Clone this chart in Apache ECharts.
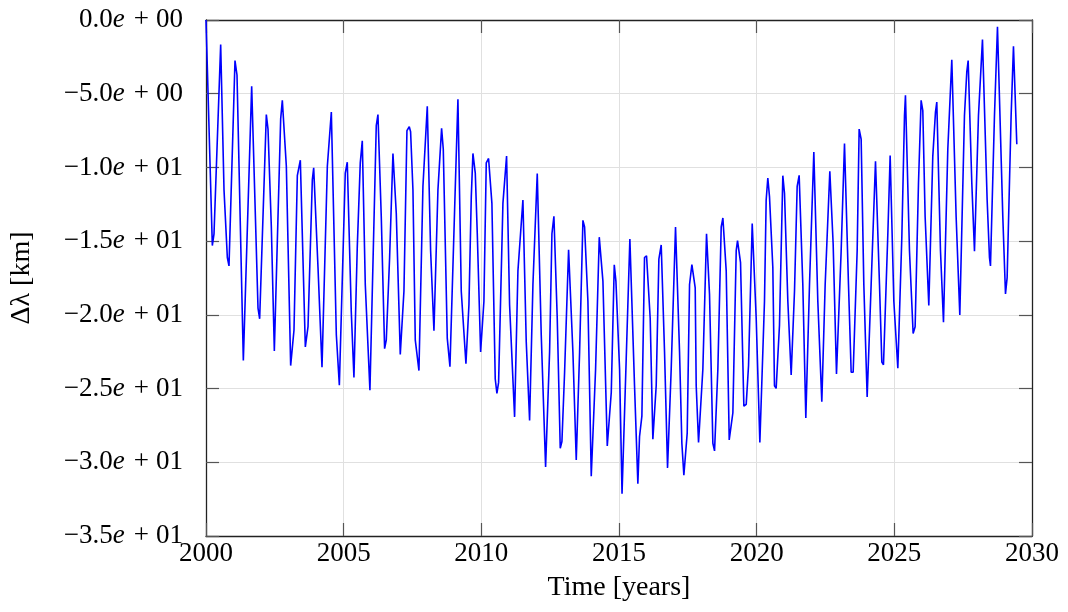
<!DOCTYPE html>
<html>
<head>
<meta charset="utf-8">
<script src="https://cdn.jsdelivr.net/npm/echarts@6/dist/echarts.min.js"></script>
<style>
  html, body { margin: 0; padding: 0; background: #fff; }
  #main { width: 1068px; height: 612px; }
</style>
</head>
<body>
<div id="main"></div>
<script>
// time axis (years), extremes + shoulders
const years = [
  2000.000, 2000.230, 2000.291, 2000.533, 2000.654, 2000.775, 2000.835, 2001.053, 2001.126, 2001.356,
  2001.659, 2001.889, 2001.949, 2002.191, 2002.252, 2002.373, 2002.482, 2002.712, 2002.772, 2002.918,
  2003.075, 2003.196, 2003.317, 2003.426, 2003.608, 2003.705, 2003.862, 2003.911, 2003.971, 2004.068,
  2004.213, 2004.407, 2004.552, 2004.734, 2004.843, 2005.058, 2005.131, 2005.276, 2005.373, 2005.494,
  2005.603, 2005.676, 2005.785, 2005.954, 2006.184, 2006.245, 2006.366, 2006.487, 2006.547, 2006.669,
  2006.790, 2006.911, 2007.056, 2007.189, 2007.298, 2007.383, 2007.431, 2007.516, 2007.601, 2007.734,
  2007.879, 2008.037, 2008.158, 2008.279, 2008.327, 2008.424, 2008.557, 2008.618, 2008.763, 2008.860,
  2009.029, 2009.150, 2009.271, 2009.441, 2009.550, 2009.635, 2009.695, 2009.780, 2009.853, 2009.974,
  2010.094, 2010.179, 2010.263, 2010.384, 2010.505, 2010.566, 2010.627, 2010.784, 2010.917, 2011.026,
  2011.208, 2011.329, 2011.510, 2011.631, 2011.753, 2011.874, 2012.031, 2012.176, 2012.334, 2012.479,
  2012.564, 2012.636, 2012.757, 2012.866, 2012.927, 2013.024, 2013.169, 2013.326, 2013.447, 2013.569,
  2013.690, 2013.750, 2013.871, 2013.992, 2014.150, 2014.283, 2014.416, 2014.574, 2014.719, 2014.828,
  2014.888, 2015.021, 2015.110, 2015.262, 2015.395, 2015.564, 2015.685, 2015.746, 2015.831, 2015.927,
  2016.000, 2016.133, 2016.230, 2016.351, 2016.448, 2016.533, 2016.654, 2016.763, 2016.896, 2017.053,
  2017.199, 2017.283, 2017.356, 2017.477, 2017.562, 2017.647, 2017.768, 2017.804, 2017.889, 2018.046,
  2018.179, 2018.288, 2018.409, 2018.470, 2018.591, 2018.712, 2018.773, 2018.894, 2019.003, 2019.136,
  2019.257, 2019.305, 2019.414, 2019.535, 2019.620, 2019.705, 2019.838, 2019.983, 2020.116, 2020.284,
  2020.345, 2020.405, 2020.466, 2020.587, 2020.647, 2020.708, 2020.829, 2020.950, 2021.011, 2021.132,
  2021.253, 2021.374, 2021.471, 2021.543, 2021.676, 2021.785, 2021.919, 2022.076, 2022.221, 2022.366,
  2022.488, 2022.657, 2022.778, 2022.899, 2023.069, 2023.190, 2023.335, 2023.432, 2023.505, 2023.650,
  2023.722, 2023.795, 2023.892, 2024.013, 2024.158, 2024.316, 2024.461, 2024.546, 2024.606, 2024.764,
  2024.848, 2024.982, 2025.127, 2025.272, 2025.369, 2025.404, 2025.550, 2025.683, 2025.755, 2025.877,
  2025.973, 2026.034, 2026.119, 2026.252, 2026.397, 2026.494, 2026.542, 2026.676, 2026.785, 2026.942,
  2027.087, 2027.245, 2027.378, 2027.547, 2027.632, 2027.681, 2027.814, 2027.911, 2028.056, 2028.201,
  2028.371, 2028.455, 2028.492, 2028.637, 2028.746, 2028.806, 2028.940, 2029.037, 2029.097, 2029.242,
  2029.327, 2029.448,
];

// Δλ [km]
const deltaLambda = [
  0.00, -15.30, -14.50, -1.67, -11.52, -16.11, -16.68, -2.75, -3.73, -23.09,
  -4.49, -19.54, -20.27, -6.41, -7.40, -14.04, -22.45, -6.71, -5.45, -9.92,
  -23.44, -21.03, -10.56, -9.51, -22.18, -20.80, -10.84, -10.03, -10.15, -16.79,
  -23.55, -9.92, -6.25, -21.37, -24.77, -10.38, -9.65, -19.77, -24.24, -15.42,
  -9.69, -8.20, -17.94, -25.11, -7.17, -6.41, -13.36, -22.29, -21.72, -16.11,
  -9.05, -13.13, -22.68, -18.40, -7.51, -7.24, -7.58, -11.52, -21.72, -23.78,
  -11.29, -5.86, -15.65, -21.08, -21.03, -11.52, -7.35, -8.77, -21.60, -23.51,
  -12.90, -5.38, -18.40, -23.32, -19.31, -11.98, -9.05, -10.38, -14.50, -22.52,
  -19.08, -9.69, -9.39, -12.44, -24.35, -25.32, -24.58, -12.44, -9.23, -19.31,
  -26.92, -17.02, -12.21, -21.83, -27.17, -17.94, -10.42, -21.37, -30.31, -22.52,
  -14.50, -13.31, -20.23, -29.05, -28.59, -23.89, -15.58, -22.52, -29.85, -22.52,
  -13.59, -14.04, -19.08, -30.95, -23.67, -14.73, -17.71, -28.89, -25.27, -16.61,
  -17.71, -23.67, -32.14, -22.98, -14.85, -24.81, -31.45, -28.25, -26.87, -16.11,
  -15.99, -20.23, -28.43, -24.81, -16.22, -15.26, -22.52, -30.38, -23.67, -14.04,
  -22.52, -28.71, -30.88, -28.02, -17.94, -16.59, -18.17, -24.81, -28.66, -23.67,
  -14.50, -18.63, -28.71, -29.23, -23.67, -14.04, -13.43, -17.02, -28.48, -26.64,
  -15.65, -14.96, -16.45, -26.19, -26.07, -23.44, -13.81, -20.23, -28.66, -19.08,
  -12.21, -10.72, -11.98, -16.79, -24.81, -24.99, -20.69, -10.56, -11.75, -19.08,
  -24.08, -18.40, -11.29, -10.54, -17.94, -26.99, -17.94, -8.96, -19.08, -25.89,
  -17.94, -10.26, -15.19, -24.01, -15.65, -8.38, -17.94, -23.89, -23.89, -15.65,
  -7.40, -8.09, -17.94, -25.57, -17.94, -9.58, -17.94, -23.21, -23.39, -14.50,
  -9.19, -19.08, -23.62, -14.73, -6.48, -5.11, -15.65, -21.26, -20.80, -11.07,
  -5.45, -6.14, -13.36, -19.36, -9.23, -6.25, -5.57, -15.65, -20.50, -8.77,
  -2.70, -13.36, -20.00, -6.48, -3.51, -2.75, -11.07, -15.69, -6.48, -1.33,
  -12.21, -16.11, -16.68, -6.48, -0.46, -0.46, -13.36, -18.58, -17.48, -6.48,
  -1.79, -8.43,
];

const xTicks = { min: 2000, max: 2030, step: 5 };
const yTicks = { min: -35, max: 0, step: 5 };

const FONT = 'Liberation Serif';

// -5 -> "−5.0e + 00" (LaTeX-Stil)
const sciLabel = (value) => {
  const [mant, exp] = value.toExponential(1).split('e');
  const expNum = parseInt(exp, 10);
  const m = mant.replace('-', '\u2212');
  const sign = expNum < 0 ? '\u2212' : '+';
  return `{n|${m}}{i|e}{p|${sign}}{n|${String(Math.abs(expNum)).padStart(2, '0')}}`;
};

const chart = echarts.init(document.getElementById('main'));

const frameAxis = {
  axisLine: { show: true, onZero: false, lineStyle: { color: '#222', width: 1.3 } },
  axisTick: { show: true, inside: true, length: 13, lineStyle: { color: '#555', width: 1.2 } },
};

const option = {
  backgroundColor: '#fff',
  animation: false,
  grid: { left: 205, right: 36, top: 20, bottom: 76 },
  xAxis: [
    {
      type: 'value',
      min: xTicks.min,
      max: xTicks.max,
      interval: xTicks.step,
      name: 'Time [years]',
      nameLocation: 'middle',
      nameGap: 38,
      nameTextStyle: { fontFamily: FONT, fontSize: 28, color: '#000' },
      ...frameAxis,
      splitLine: { show: true, lineStyle: { color: '#e0e0e0', width: 1 } },
      axisLabel: {
        margin: 4,
        fontFamily: FONT,
        fontSize: 27,
        color: '#000',
        formatter: v => String(v),
      },
    },
    {
      type: 'value',
      position: 'top',
      min: xTicks.min,
      max: xTicks.max,
      interval: xTicks.step,
      ...frameAxis,
      splitLine: { show: false },
      axisLabel: { show: false },
    },
  ],
  yAxis: [
    {
      type: 'value',
      min: yTicks.min,
      max: yTicks.max,
      interval: yTicks.step,
      name: '\u0394\u03bb [km]',
      nameLocation: 'middle',
      nameGap: 170,
      nameTextStyle: { fontFamily: FONT, fontSize: 28, color: '#000' },
      ...frameAxis,
      splitLine: { show: true, lineStyle: { color: '#e0e0e0', width: 1 } },
      axisLabel: {
        margin: 23,
        formatter: sciLabel,
        rich: {
          n: { fontFamily: FONT, fontSize: 27, color: '#000' },
          i: { fontFamily: FONT, fontSize: 27, fontStyle: 'italic', color: '#000' },
          p: { fontFamily: FONT, fontSize: 27, color: '#000', padding: [0, 7, 0, 9] },
        },
      },
    },
    {
      type: 'value',
      position: 'right',
      min: yTicks.min,
      max: yTicks.max,
      interval: yTicks.step,
      ...frameAxis,
      splitLine: { show: false },
      axisLabel: { show: false },
    },
  ],
  series: [
    {
      type: 'line',
      xAxisIndex: 0,
      yAxisIndex: 0,
      showSymbol: false,
      symbol: 'none',
      lineStyle: { color: '#0000ff', width: 1.6 },
      data: years.map((t, i) => [t, deltaLambda[i]]),
    },
  ],
};

chart.setOption(option);
</script>
</body>
</html>
